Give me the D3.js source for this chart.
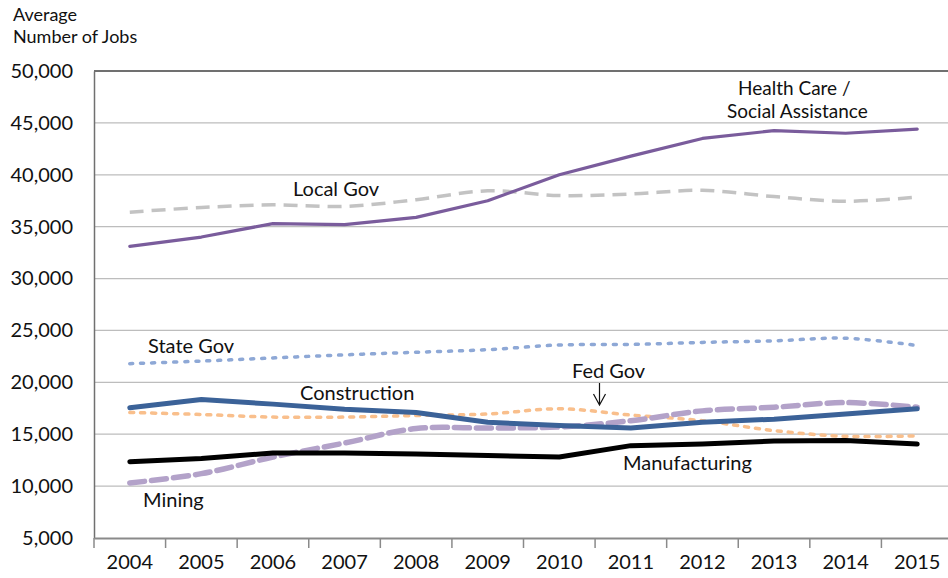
<!DOCTYPE html>
<html>
<head>
<meta charset="utf-8">
<script src="https://cdn.jsdelivr.net/npm/d3@7/dist/d3.min.js"></script>
<style>
  html, body { margin: 0; padding: 0; background: #fff; }
  svg text { font-family: Lato, "Open Sans", sans-serif; fill: #111; }
</style>
</head>
<body>
<svg id="chart" width="948" height="578"></svg>
<script>
// Average number of jobs by industry, 2004–2015
const years = ["2004","2005","2006","2007","2008","2009","2010","2011","2012","2013","2014","2015"];
const yTicks = [5000, 10000, 15000, 20000, 25000, 30000, 35000, 40000, 45000, 50000];

const healthCare    = [33100, 34000, 35300, 35200, 35900, 37500, 40000, 41800, 43500, 44250, 44000, 44400];
const localGov      = [36400, 36850, 37100, 36950, 37600, 38450, 38000, 38150, 38500, 37900, 37450, 37850];
const stateGov      = [21800, 22050, 22350, 22650, 22900, 23150, 23600, 23650, 23850, 24000, 24250, 23550];
const construction  = [17550, 18350, 17900, 17400, 17100, 16150, 15850, 15600, 16150, 16450, 16950, 17450];
const fedGov        = [17100, 16900, 16650, 16650, 16800, 16950, 17450, 16850, 16300, 15350, 14800, 14850];
const mining        = [10300, 11200, 12800, 14150, 15550, 15600, 15700, 16300, 17250, 17600, 18050, 17600];
const manufacturing = [12350, 12650, 13200, 13200, 13100, 12950, 12800, 13900, 14050, 14350, 14400, 14050];

const FONT = "Lato, 'Open Sans', sans-serif";
const FS = 20;

const svg = d3.select("#chart");
const plotLeft = 94, plotRight = 953, plotTop = 71, plotBottom = 538;

const x = d3.scaleBand().domain(years).range([plotLeft, plotRight]);
const y = d3.scaleLinear().domain([5000, 50000]).range([plotBottom, plotTop]);
const cx = d => x(d) + x.bandwidth() / 2;

// horizontal gridlines
svg.append("g")
  .selectAll("line")
  .data(yTicks.filter(t => t > 5000 && t < 50000))
  .join("line")
  .attr("x1", plotLeft).attr("x2", 948)
  .attr("y1", d => y(d)).attr("y2", d => y(d))
  .attr("stroke", "#bdbdbd").attr("stroke-width", 1.3);

// top border
svg.append("line")
  .attr("x1", plotLeft).attr("x2", 948)
  .attr("y1", y(50000)).attr("y2", y(50000))
  .attr("stroke", "#404040").attr("stroke-width", 1.3);

// y axis
const yAxis = svg.append("g")
  .attr("transform", `translate(${plotLeft},0)`)
  .call(d3.axisLeft(y).tickValues(yTicks).tickFormat(d3.format(",")).tickSize(0).tickPadding(21));
yAxis.select(".domain").attr("stroke", "#707070").attr("stroke-width", 1.5);
yAxis.selectAll("text").attr("font-size", FS).attr("fill", "#111").style("font-family", FONT);

// x axis
const xAxis = svg.append("g")
  .attr("transform", `translate(0,${plotBottom})`)
  .call(d3.axisBottom(x).tickSize(0).tickPadding(17));
xAxis.select(".domain").attr("stroke", "#8a8a8a").attr("stroke-width", 2);
xAxis.selectAll("text").attr("font-size", FS).attr("fill", "#111").style("font-family", FONT);
// category separator ticks
svg.append("g")
  .selectAll("line")
  .data(years)
  .join("line")
  .attr("x1", d => x(d)).attr("x2", d => x(d))
  .attr("y1", plotBottom).attr("y2", plotBottom + 10)
  .attr("stroke", "#8a8a8a").attr("stroke-width", 1.5);

// y axis title (two lines)
svg.append("text").attr("x", 13).attr("y", 21).attr("font-size", 18).text("Average");
svg.append("text").attr("x", 13).attr("y", 43).attr("font-size", 18).text("Number of Jobs");

const smooth = d3.line().x((d, i) => cx(years[i])).y(d => y(d)).curve(d3.curveCatmullRom.alpha(0.5));
const straight = d3.line().x((d, i) => cx(years[i])).y(d => y(d));

const series = [
  { data: localGov,      gen: smooth,   color: "#c3c3c3", width: 3.5, dash: "14,8",  cap: "butt" },
  { data: stateGov,      gen: smooth,   color: "#8ea8d6", width: 3.5, dash: "3,8",   cap: "round" },
  { data: healthCare,    gen: straight, color: "#7a5c9c", width: 3.2, dash: null,    cap: "round" },
  { data: fedGov,        gen: smooth,   color: "#f9bf8c", width: 3.5, dash: "4,7",   cap: "round" },
  { data: mining,        gen: smooth,   color: "#b3a2c9", width: 5.5, dash: "15,7",  cap: "round" },
  { data: manufacturing, gen: straight, color: "#000000", width: 5,   dash: null,    cap: "round" },
  { data: construction,  gen: straight, color: "#3b6298", width: 5,   dash: null,    cap: "round" }
];

svg.append("g")
  .selectAll("path")
  .data(series)
  .join("path")
  .attr("d", s => s.gen(s.data))
  .attr("fill", "none")
  .attr("stroke", s => s.color)
  .attr("stroke-width", s => s.width)
  .attr("stroke-dasharray", s => s.dash)
  .attr("stroke-linecap", s => s.cap)
  .attr("stroke-linejoin", "round");

// series labels
const labels = [
  { text: "Local Gov",          x: 293, y: 196, size: FS },
  { text: "Health Care /",      x: 738, y: 95,  size: 19 },
  { text: "Social Assistance",  x: 727, y: 118, size: 19 },
  { text: "State Gov",          x: 148, y: 353, size: FS },
  { text: "Construction",       x: 300, y: 400, size: FS },
  { text: "Fed Gov",            x: 572, y: 378, size: FS },
  { text: "Manufacturing",      x: 623, y: 470, size: FS },
  { text: "Mining",             x: 143, y: 507, size: FS }
];
svg.append("g")
  .selectAll("text")
  .data(labels)
  .join("text")
  .attr("x", d => d.x).attr("y", d => d.y)
  .attr("font-size", d => d.size)
  .text(d => d.text);

// pointer from "Fed Gov" down to its line
svg.append("path")
  .attr("d", "M599.5,383 L599.5,405 M593.5,394 L599.5,405 L605.5,394")
  .attr("fill", "none").attr("stroke", "#111").attr("stroke-width", 1.2);
</script>
</body>
</html>
